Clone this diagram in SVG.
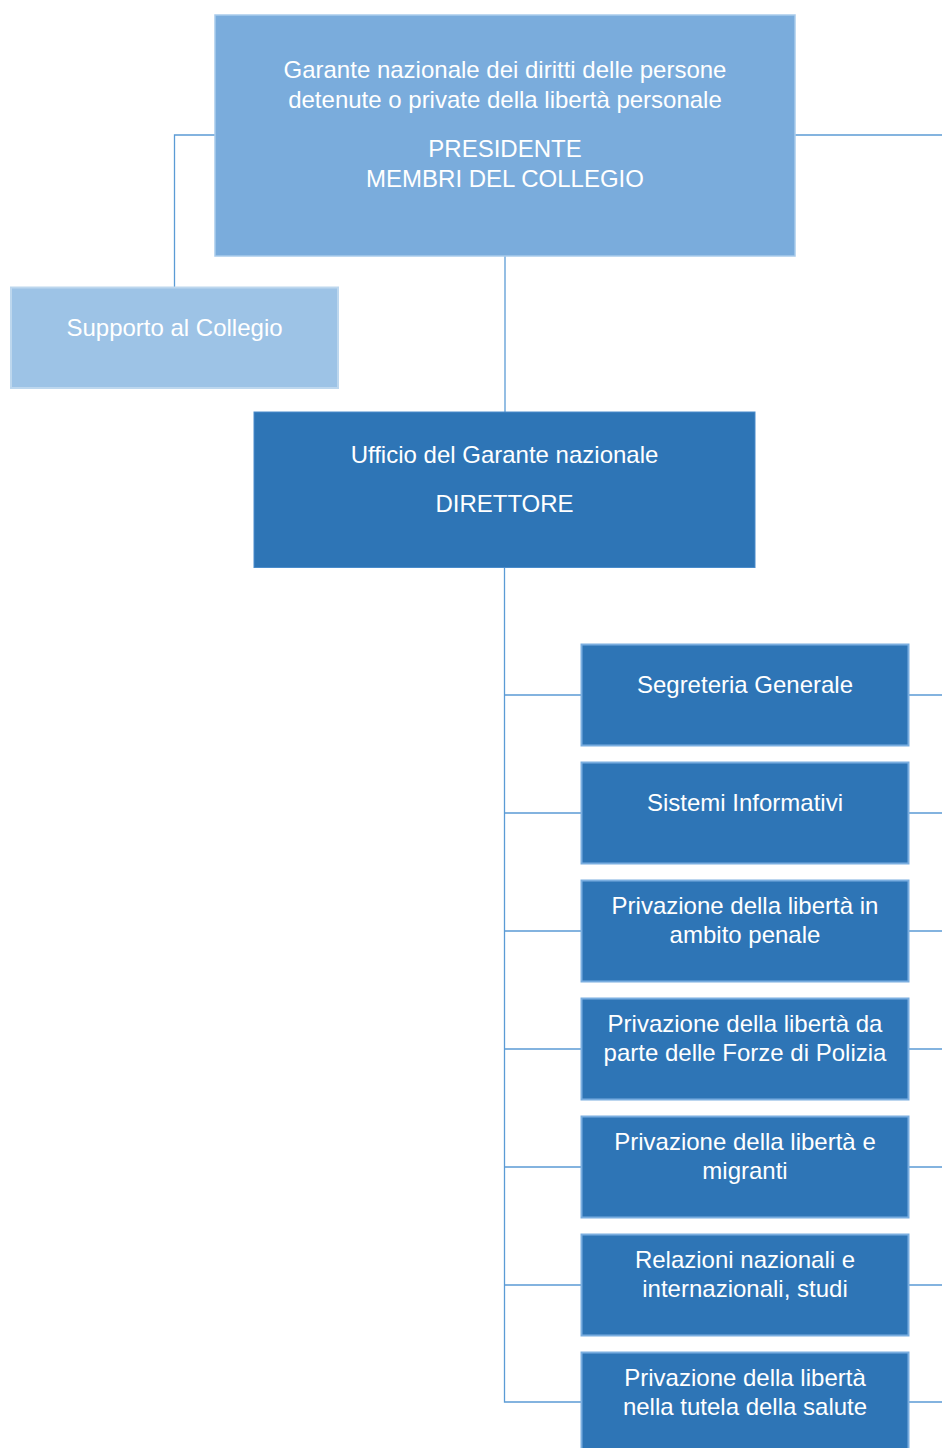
<svg xmlns="http://www.w3.org/2000/svg" width="942" height="1448" viewBox="0 0 942 1448">
<style>
.t{font-family:"Liberation Sans",Arial,sans-serif;font-size:24px;fill:#ffffff;text-anchor:middle}
.top{fill:#7aacdc;stroke:#a9cbeb;stroke-width:1.5}
.sup{fill:#9dc3e6;stroke:#bdd7ee;stroke-width:2}
.dir{fill:#2e75b6;stroke:#4a8ccb;stroke-width:1}
.off{fill:#2e75b6;stroke:#7aaee0;stroke-width:2}
.c{fill:none;stroke:#5b9bd5;stroke-width:1.3}
</style>
<rect width="942" height="1448" fill="#ffffff"/>
<g id="connectors">
<path class="c" d="M215 135H174.5V287"/>
<path class="c" d="M795 135H942"/>
<path class="c" d="M505 256V412"/>
<path class="c" d="M504.5 568V1402H581"/>
<path class="c" d="M504.5 695H581M504.5 813H581M504.5 931H581M504.5 1049H581M504.5 1167H581M504.5 1285H581"/>
<path class="c" d="M909 695H942M909 813H942M909 931H942M909 1049H942M909 1167H942M909 1285H942M909 1402H942"/>
</g>
<g id="garante">
<rect class="top" x="215" y="15" width="580" height="241"/>
<text class="t" x="505" y="78">Garante nazionale dei diritti delle persone</text>
<text class="t" x="505" y="107.5">detenute o private della libertà personale</text>
<text class="t" x="505" y="157">PRESIDENTE</text>
<text class="t" x="505" y="187">MEMBRI DEL COLLEGIO</text>
</g>
<g id="supporto">
<rect class="sup" x="11" y="287.5" width="327" height="100.5"/>
<text class="t" x="174.5" y="335.5">Supporto al Collegio</text>
</g>
<g id="ufficio">
<rect class="dir" x="254" y="412" width="501" height="155.5"/>
<text class="t" x="504.5" y="463">Ufficio del Garante nazionale</text>
<text class="t" x="504.5" y="512">DIRETTORE</text>
</g>
<g id="segreteria">
<rect class="off" x="581.5" y="644.5" width="327" height="101"/>
<text class="t" x="745" y="693">Segreteria Generale</text>
</g>
<g id="sistemi">
<rect class="off" x="581.5" y="762.5" width="327" height="101"/>
<text class="t" x="745" y="811">Sistemi Informativi</text>
</g>
<g id="penale">
<rect class="off" x="581.5" y="880.5" width="327" height="101"/>
<text class="t" x="745" y="913.5">Privazione della libertà in</text>
<text class="t" x="745" y="943">ambito penale</text>
</g>
<g id="polizia">
<rect class="off" x="581.5" y="998.5" width="327" height="101"/>
<text class="t" x="745" y="1031.5">Privazione della libertà da</text>
<text class="t" x="745" y="1061">parte delle Forze di Polizia</text>
</g>
<g id="migranti">
<rect class="off" x="581.5" y="1116.5" width="327" height="101"/>
<text class="t" x="745" y="1149.5">Privazione della libertà e</text>
<text class="t" x="745" y="1179">migranti</text>
</g>
<g id="relazioni">
<rect class="off" x="581.5" y="1234.5" width="327" height="101"/>
<text class="t" x="745" y="1267.5">Relazioni nazionali e</text>
<text class="t" x="745" y="1297">internazionali, studi</text>
</g>
<g id="salute">
<rect class="off" x="581.5" y="1352.5" width="327" height="101"/>
<text class="t" x="745" y="1385.5">Privazione della libertà</text>
<text class="t" x="745" y="1415">nella tutela della salute</text>
</g>
</svg>
